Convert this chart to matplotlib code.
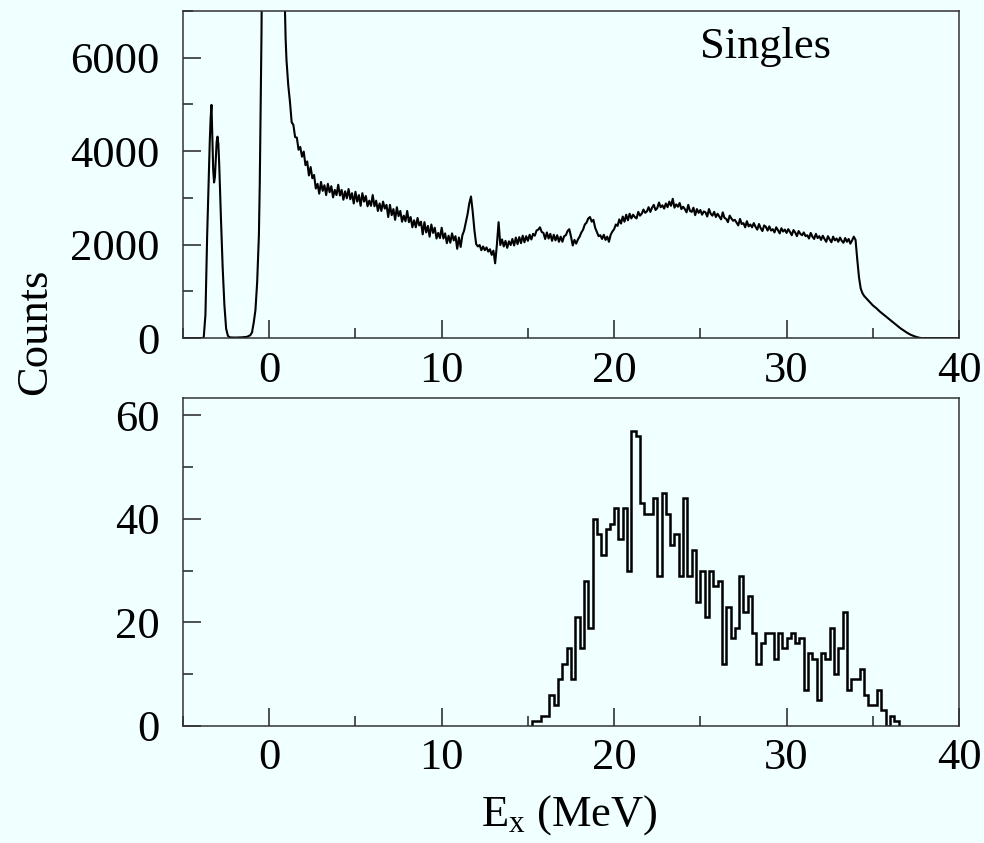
import numpy as np
import matplotlib.pyplot as plt
from matplotlib.ticker import MultipleLocator

plt.rcParams['font.family'] = ['Liberation Serif', 'DejaVu Serif']
plt.rcParams['mathtext.fontset'] = 'custom'
plt.rcParams['mathtext.rm'] = 'Liberation Serif'
plt.rcParams['mathtext.it'] = 'Liberation Serif:italic'

# singles spectrum: left part (ground-state region) read point by point
e_left = [-5.0, -3.9, -3.8, -3.7, -3.65, -3.6, -3.5, -3.45, -3.4, -3.35, -3.3, -3.25,
          -3.2, -3.15, -3.1, -3.05, -3.0, -2.95, -2.9, -2.8, -2.7, -2.6, -2.5, -2.4,
          -2.3, -2.0, -1.6, -1.3, -1.1, -1.0, -0.9, -0.8, -0.7, -0.6, -0.55, -0.5,
          -0.45, -0.4, -0.2, 0.0, 0.3, 0.6, 0.8, 0.9, 0.95]
c_left = [0, 0, 10, 500, 1300, 2200, 3500, 4200, 4700, 4990, 4300, 3600,
          3330, 3450, 3850, 4200, 4310, 4150, 3700, 2550, 1500, 700, 200, 50,
          15, 10, 15, 25, 60, 120, 330, 600, 1200, 2200, 3300, 4900,
          6500, 9000, 20000, 30000, 25000, 15000, 9000, 7200, 6400]

# continuum, 0.1 MeV channels from 1.0 to 33.9 MeV
c_body = [
    5950, 5420, 5060, 4620, 4560, 4300, 4290, 4030, 4090, 3880,
    3990, 3700, 3780, 3480, 3660, 3420, 3490, 3200, 3300, 3090,
    3340, 3150, 3270, 3060, 3300, 3120, 3250, 3010, 3170, 3060,
    3280, 3050, 3170, 2960, 3140, 2990, 3190, 2970, 3100, 2880,
    3130, 2920, 3060, 2830, 3100, 2920, 3040, 2820, 2940, 2830,
    3060, 2820, 2940, 2720, 2880, 2720, 2920, 2770, 2850, 2590,
    2850, 2630, 2760, 2530, 2800, 2610, 2720, 2490, 2620, 2500,
    2720, 2480, 2590, 2370, 2520, 2370, 2570, 2410, 2490, 2220,
    2480, 2260, 2400, 2170, 2430, 2250, 2360, 2130, 2250, 2140,
    2360, 2130, 2240, 2030, 2190, 2040, 2240, 2090, 2180, 1910,
    2150, 1950, 2200, 2300, 2480, 2650, 2880, 3030, 2700, 2300,
    2010, 1960, 1990, 1880, 1960, 1880, 1940, 1850, 1900, 1780,
    1870, 1600, 1990, 2480, 1990, 2110, 1960, 2080, 1930, 2070,
    1990, 2120, 1980, 2150, 2010, 2160, 2030, 2190, 2050, 2180,
    2080, 2210, 2110, 2230, 2190, 2300, 2320, 2370, 2270, 2250,
    2120, 2260, 2130, 2230, 2080, 2210, 2090, 2200, 2060, 2170,
    2060, 2180, 2200, 2290, 2330, 2170, 1980, 2100, 2020, 2110,
    2170, 2260, 2320, 2430, 2470, 2560, 2590, 2490, 2530, 2360,
    2270, 2180, 2200, 2120, 2210, 2100, 2170, 2060, 2210, 2280,
    2330, 2430, 2400, 2540, 2450, 2600, 2490, 2640, 2520, 2660,
    2560, 2640, 2590, 2560, 2700, 2620, 2660, 2750, 2680, 2710,
    2800, 2700, 2790, 2850, 2740, 2780, 2900, 2800, 2840, 2770,
    2880, 2800, 2920, 2830, 2980, 2790, 2860, 2810, 2890, 2760,
    2810, 2760, 2690, 2850, 2720, 2700, 2790, 2630, 2760, 2680,
    2740, 2640, 2710, 2690, 2600, 2760, 2660, 2620, 2700, 2590,
    2660, 2600, 2540, 2690, 2570, 2550, 2480, 2620, 2560, 2510,
    2530, 2470, 2410, 2550, 2440, 2460, 2370, 2500, 2390, 2430,
    2370, 2460, 2380, 2320, 2440, 2350, 2290, 2410, 2380, 2300,
    2390, 2300, 2330, 2260, 2370, 2310, 2240, 2350, 2280, 2320,
    2250, 2330, 2270, 2200, 2310, 2260, 2180, 2290, 2230, 2200,
    2260, 2180, 2200, 2130, 2250, 2170, 2120, 2230, 2140, 2180,
    2100, 2190, 2120, 2060, 2180, 2110, 2050, 2170, 2090, 2130,
    2060, 2150, 2080, 2040, 2140, 2060, 2120, 2020, 2090, 2170,
]
e_body = np.arange(10, 10 + len(c_body)) / 10.0

# high-energy edge
e_right = [34.0, 34.1, 34.2, 34.3, 34.4, 34.5, 34.6, 34.8, 35.0, 35.2, 35.4, 35.6,
           35.8, 36.0, 36.2, 36.4, 36.6, 36.8, 37.0, 37.2, 37.4, 37.6, 37.8, 40.0]
c_right = [2100, 1680, 1300, 1060, 960, 900, 860, 780, 700, 640, 570, 510,
           450, 390, 330, 270, 210, 160, 110, 70, 40, 15, 0, 0]

# coincidence histogram, 0.25 MeV bins starting at 15.25 MeV
bin_start = 15.25
bin_width = 0.25
coinc = [1, 1, 2, 2, 6, 4, 9, 12, 15, 9, 21, 15, 28, 19, 40, 37, 33, 38, 39, 42,
         36, 42, 30, 57, 56, 43, 41, 41, 44, 29, 45, 41, 35, 37, 29, 44, 29, 34, 24, 30,
         21, 30, 27, 28, 12, 23, 17, 19, 29, 22, 25, 18, 12, 16, 18, 18, 13, 18, 15, 17,
         18, 16, 17, 7, 14, 13, 5, 14, 13, 19, 10, 15, 22, 7, 9, 9, 11, 6, 4, 4,
         7, 3, 0, 2, 1]
edges = bin_start + bin_width * np.arange(len(coinc) + 1)

bg = '#F0FFFF'
fig = plt.figure(figsize=(9.84, 8.43), dpi=100, facecolor=bg)
ax1 = fig.add_axes([0.186, 0.599, 0.7886, 0.388])
ax2 = fig.add_axes([0.186, 0.1388, 0.7886, 0.389])

energy = np.concatenate([e_left, e_body, e_right])
counts = np.concatenate([c_left, c_body, c_right])
ax1.plot(energy, counts, color='black', lw=1.5)
ax1.set_ylim(0, 7000)
ax1.yaxis.set_major_locator(MultipleLocator(2000))
ax1.yaxis.set_minor_locator(MultipleLocator(1000))
ax1.text(25.0, 6000, 'Singles', fontsize=32)

ax2.stairs(coinc, edges, color='black', lw=1.8, baseline=0)
ax2.set_ylim(0, 63.3)
ax2.yaxis.set_major_locator(MultipleLocator(20))
ax2.yaxis.set_minor_locator(MultipleLocator(10))

for ax in (ax1, ax2):
    ax.set_facecolor(bg)
    ax.set_xlim(-5, 40)
    ax.xaxis.set_major_locator(MultipleLocator(10))
    ax.xaxis.set_minor_locator(MultipleLocator(5))
    ax.tick_params(which='both', direction='in', top=False, right=False,
                   width=1.1, color='#222222', labelsize=32)
    ax.tick_params(which='major', length=13)
    ax.tick_params(which='minor', length=7)
    ax.tick_params(axis='y', pad=17)
    ax.tick_params(axis='x', pad=9)
    for s in ax.spines.values():
        s.set_color('#333333')
        s.set_linewidth(1.1)

fig.text(0.036, 0.606, 'Counts', rotation=90, fontsize=32, ha='center', va='center')
fig.text(0.578, 0.033, r'E$_\mathrm{x}$ (MeV)', fontsize=32, ha='center', va='center')

fig.savefig('out.png', dpi=100, facecolor=bg)
